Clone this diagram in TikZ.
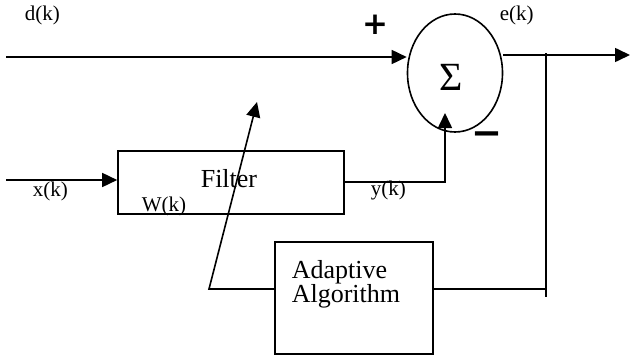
\documentclass[tikz,border=0pt]{standalone}
\usepackage{fontspec}
\setmainfont{Liberation Serif}
\newfontfamily\signfont{DejaVu Sans}
\usetikzlibrary{arrows.meta,shapes.geometric}

\begin{document}
\begin{tikzpicture}[x=1pt,y=-1pt,line width=1.6pt,
    box/.style={draw,line width=1.6pt,inner sep=0pt},
    lbl/.style={anchor=base west,inner sep=0pt,font=\fontsize{21}{24}\selectfont},
    big/.style={anchor=base west,inner sep=0pt,font=\fontsize{26}{30}\selectfont},
    arr/.style={-{Triangle[length=15pt,width=14pt]}}]

    \useasboundingbox (0,0) rectangle (632,356);

    % Blocks
    \node[box,minimum width=226pt,minimum height=63pt] (filter) at (231,182.5) {};
    \node[box,minimum width=158pt,minimum height=112pt] (adapt) at (354,298) {};
    \node[box,ellipse,minimum width=95pt,minimum height=118pt] (sum) at (455,73) {};
    \node[inner sep=0pt,font=\fontsize{40}{40}\selectfont] (sigma) at (451,77) {Σ};

    % Free ends of the connectors
    \coordinate (din) at (6,57);
    \coordinate (xin) at (6,180);
    \coordinate (eout) at (630,55);
    \coordinate (tap) at (546,53);
    \coordinate (tapend) at (546,297);
    \coordinate (ycorner) at (445,182);
    \coordinate (ytip) at (445,113);
    \coordinate (wbend) at (209,289);
    \coordinate (wtip) at (257,102);

    % Signal paths
    \draw[arr] (din) -- (din -| sum.west);
    \draw[arr] (sum.east |- eout) -- (eout);
    \draw (tap) -- (tapend);
    \draw ([yshift=9pt]adapt.east) -- ([yshift=9pt]adapt.east -| tap);
    \draw[arr] (xin) -- (xin -| filter.west);
    \draw[arr] (filter.east |- ycorner) -- (ycorner) -- (ytip);
    \draw[arr] ([yshift=9pt]adapt.west) -- (wbend) -- (wtip);

    % Labels
    \node[lbl] (dlab) at (24,20) {d(k)};
    \node[lbl] (elab) at (499,20) {e(k)};
    \node[lbl] (xlab) at (32,196) {x(k)};
    \node[lbl] (wlab) at (141,211) {W(k)};
    \node[lbl] (ylab) at (370,195) {y(k)};
    \node[big] (filtertext) at (200,187) {Filter};
    \node[big] (adapttext) at (291,278) {Adaptive};
    \node[big] (algotext) at (291,302) {Algorithm};

    % Signs at the summer
    \node[inner sep=0pt,font=\signfont\bfseries\fontsize{31}{31}\selectfont] (plus) at (375.5,24.5) {+};
    \node[inner sep=0pt,font=\signfont\bfseries\fontsize{37}{37}\selectfont] (minus) at (487,139) {−};
\end{tikzpicture}
\end{document}
